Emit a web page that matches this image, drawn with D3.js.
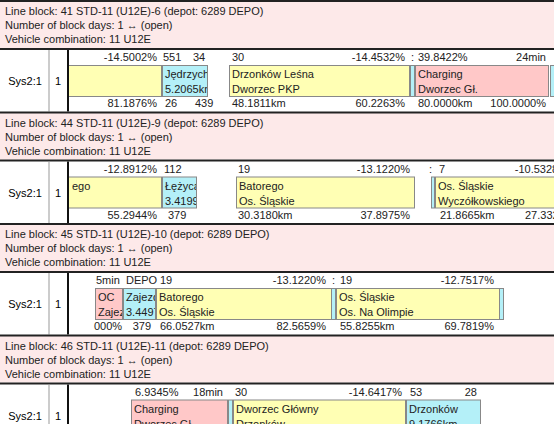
<!DOCTYPE html>
<meta charset="utf-8">
<script src="https://d3js.org/d3.v7.min.js"></script>
<style>body{margin:0;background:#fff}</style>
<div id="chart"></div>
<script>
// block headers
const blockNames = ["41 STD-11 (U12E)-6", "44 STD-11 (U12E)-9", "45 STD-11 (U12E)-10", "46 STD-11 (U12E)-11"];
// trips per block: [start, end, kind, line1, line2]
const trips0 = [[-20,93,"s","",""],[94,139,"d","Jędrzych","5.2065km"],[161,341,"s","Drzonków Leśna","Dworzec PKP"],[342,346,"d","",""],[347,480,"c","Charging","Dworzec Gł."],[482,500,"d","",""]];
const trips1 = [[-20,93,"s","ego",""],[94,128,"d","Łężyca","3.4199"],[168,346,"s","Batorego","Os. Śląskie"],[363,366,"d","",""],[367,500,"s","Os. Śląskie","Wyczółkowskiego"]];
const trips2 = [[27,54,"c","OC","Zajez"],[55,87,"d","Zajezd","3.4497"],[88,263,"s","Batorego","Os. Śląskie"],[263,267,"d","",""],[268,431,"s","Os. Śląskie","Os. Na Olimpie"],[431,435,"d","",""]];
const trips3 = [[63,159,"c","Charging","Dworzec Gł."],[160,164,"d","",""],[165,337,"s","Dworzec Główny","Drzonków"],[338,412,"d","Drzonków","9.1766km"]];
// annotations: [time, anchor, text, row(0 top / 1 bottom)]
const notes0 = [[89,"end","-14.5002%",0],[95,"start","551",0],[125,"start","34",0],[164,"start","30",0],[337,"end","-14.4532%",0],[343,"start",":",0],[350,"start","39.8422%",0],[478,"end","24min",0],
  [89,"end","81.1876%",1],[97,"start","26",1],[127,"start","439",1],[164,"start","48.1811km",1],[337,"end","60.2263%",1],[350,"start","80.0000km",1],[478,"end","100.0000%",1]];
const notes1 = [[89,"end","-12.8912%",0],[96,"start","112",0],[170,"start","19",0],[342,"end","-13.1220%",0],[361,"start",":",0],[371,"start","7",0],[500,"end","-10.5328%",0],
  [89,"end","55.2944%",1],[100,"start","379",1],[170,"start","30.3180km",1],[342,"end","37.8975%",1],[372,"start","21.8665km",1],[457,"start","27.3321%",1]];
const notes2 = [[28,"start","5min",0],[58,"start","DEPO",0],[92,"start","19",0],[258,"end","-13.1220%",0],[264,"start",":",0],[272,"start","19",0],[426,"end","-12.7517%",0],
  [26,"start","000%",1],[83,"end","379",1],[92,"start","66.0527km",1],[258,"end","82.5659%",1],[272,"start","55.8255km",1],[426,"end","69.7819%",1]];
const notes3 = [[67,"start","6.9345%",0],[155,"end","18min",0],[167,"start","30",0],[334,"end","-14.6417%",0],[342,"start","53",0],[409,"end","28",0]];
const blocks = [[trips0,notes0],[trips1,notes1],[trips2,notes2],[trips3,notes3]];

const W = 554, H = 424, blockH = 111.5;
const x = d3.scaleLinear().domain([0, 486]).range([68, 554]);
const fills = {s:"#ffffb4", d:"#b4f0f8", c:"#ffc8c8"};
const font = "'Liberation Sans', Arial, sans-serif";

const svg = d3.select("#chart").append("svg").attr("width", W).attr("height", H)
  .style("font-family", font).style("font-size", "11px");
svg.append("defs").append("clipPath").attr("id", "area")
  .append("rect").attr("x", 69).attr("y", 0).attr("width", W - 69).attr("height", H);

blocks.forEach(([trips, notes], i) => {
  const g = svg.append("g").attr("transform", `translate(0,${i * blockH})`);
  // header
  g.append("rect").attr("x", 0).attr("y", 1).attr("width", W).attr("height", 47).attr("fill", "#fde9e9");
  g.append("line").attr("x1", 0).attr("x2", W).attr("y1", 1).attr("y2", 1).attr("stroke", "#222").attr("stroke-width", 2);
  g.append("line").attr("x1", 0).attr("x2", W).attr("y1", 49).attr("y2", 49).attr("stroke", "#222").attr("stroke-width", 2);
  ["Line block: " + blockNames[i] + " (depot: 6289 DEPO)", "Number of block days: 1  \u2194 (open)", "Vehicle combination: 11 U12E"]
    .forEach((t, k) => g.append("text").attr("x", 5).attr("y", 15 + k * 14).attr("fill", "#222").text(t));
  // row labels and column lines
  g.append("text").attr("x", 25).attr("y", 85).attr("text-anchor", "middle").text("Sys2:1");
  g.append("text").attr("x", 58).attr("y", 85).attr("text-anchor", "middle").text("1");
  g.append("line").attr("x1", 49).attr("x2", 49).attr("y1", 50).attr("y2", blockH).attr("stroke", "#999");
  g.append("line").attr("x1", 68).attr("x2", 68).attr("y1", 50).attr("y2", blockH).attr("stroke", "#111").attr("stroke-width", 2);

  const area = g.append("g").attr("clip-path", "url(#area)");
  const bars = area.selectAll("g.trip").data(trips).join("g").attr("class", "trip");
  bars.append("rect")
    .attr("x", d => x(d[0]) + 0.5).attr("y", 65.5)
    .attr("width", d => x(d[1]) - x(d[0])).attr("height", 31)
    .attr("fill", d => fills[d[2]]).attr("stroke", "#888");
  // visible part of each bar holds its labels
  const left = d => Math.max(x(d[0]) + 1, 70);
  const inner = bars.append("svg")
    .attr("x", left).attr("y", 66)
    .attr("width", d => Math.max(0, x(d[1]) - left(d))).attr("height", 30);
  inner.append("text").attr("x", 2).attr("y", 12).attr("fill", "#222").text(d => d[3]);
  inner.append("text").attr("x", 2).attr("y", 27).attr("fill", "#222").text(d => d[4]);

  area.selectAll("text.note").data(notes).join("text").attr("class", "note")
    .attr("x", d => x(d[0])).attr("y", d => d[3] ? 107 : 61)
    .attr("text-anchor", d => d[1]).attr("fill", "#222").text(d => d[2]);
});
</script>
